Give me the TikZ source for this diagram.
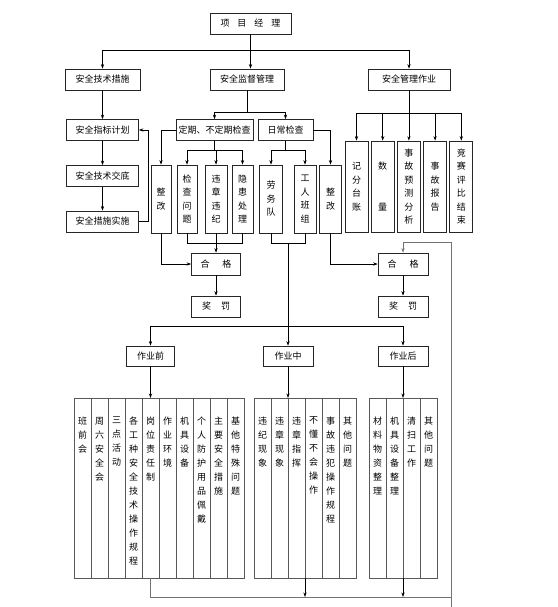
\documentclass[tikz,border=0pt]{standalone}
\usepackage{fontspec}
\newfontfamily\cjk{Noto Sans CJK SC}
\usepackage{tikz}
\usetikzlibrary{positioning,arrows.meta,calc}
\newcommand{\chgap}[1]{\hspace{#1}}
\newcommand{\colt}[1]{\parbox[c][180pt][t]{14pt}{\vspace*{19pt}\centering #1}}

\begin{document}
\begin{tikzpicture}[x=1pt, y=-1pt, >={Stealth[length=4.5pt,width=3.2pt]},
    box/.style={rectangle, draw=black!85, line width=0.7pt, inner sep=0pt, minimum height=21pt, font=\cjk\fontsize{9}{11}\selectfont},
    upcol/.style={rectangle, draw=black!85, line width=0.7pt, inner sep=0pt, minimum width=21pt, minimum height=68pt, align=center, font=\cjk\fontsize{9}{13.5}\selectfont},
    lowcol/.style={rectangle, draw=black!65, line width=0.6pt, inner sep=0pt, outer sep=0pt, minimum width=17pt, minimum height=180pt, font=\cjk\fontsize{9}{14}\selectfont},
    wire/.style={line width=0.6pt},
    link/.style={wire, ->}]
    \useasboundingbox (0,0) rectangle (557,607);

    % top levels
    \node[box, minimum width=81pt] (pm) at (250.5,23.5) {项\chgap{8pt}目\chgap{8pt}经\chgap{8pt}理};
    \node[box, minimum width=75pt] (tech) at (102.5,79.5) {安全技术措施};
    \node[box, minimum width=74pt] (sup) at (247,79.5) {安全监督管理};
    \node[box, minimum width=82pt] (mgmt) at (409,79.5) {安全管理作业};

    % technical measures
    \node[box, minimum width=72pt] (plan) at (102.5,130) {安全指标计划};
    \node[box, minimum width=72pt] (brief) at (102.5,176) {安全技术交底};
    \node[box, minimum width=72pt] (impl) at (102.5,221.5) {安全措施实施};

    % supervision
    \node[box, minimum width=77pt] (reg) at (214.5,130) {定期、不定期检查};
    \node[box, minimum width=55pt] (daily) at (285.5,130) {日常检查};
    \node[upcol, minimum width=20pt] (fix1) at (161,199) {整\\改};
    \node[upcol, minimum width=20pt] (q1) at (187,199) {检\\查\\问\\题};
    \node[upcol, minimum width=22pt] (q2) at (216,199) {违\\章\\违\\纪};
    \node[upcol] (q3) at (242.5,199) {隐\\患\\处\\理};
    \node[upcol, minimum width=23pt] (lab) at (271,199) {劳\\务\\队};
    \node[upcol, minimum width=22pt] (crew) at (305,199) {工\\人\\班\\组};
    \node[upcol, minimum width=22pt] (fix2) at (330.5,199) {整\\改};

    % management work
    \node[upcol, minimum width=23pt, minimum height=91pt] (r1) at (356.5,186.5) {记\\分\\台\\账};
    \node[upcol, minimum width=23pt, minimum height=91pt, right=2.5pt of r1] (r2) {数\\\phantom{数}\\\phantom{数}\\量};
    \node[upcol, minimum width=23pt, minimum height=91pt, right=2.5pt of r2] (r3) {事\\故\\预\\测\\分\\析};
    \node[upcol, minimum width=23pt, minimum height=91pt, right=2.5pt of r3] (r4) {事\\故\\报\\告};
    \node[upcol, minimum width=23pt, minimum height=91pt, right=2.5pt of r4] (r5) {竞\\赛\\评\\比\\结\\束};

    % results
    \node[box, minimum width=49pt, minimum height=22pt] (ok1) at (216,264) {合\chgap{13pt}格};
    \node[box, minimum width=49pt] (rp1) at (216,306.5) {奖\chgap{10pt}罚};
    \node[box, minimum width=50pt, minimum height=22pt] (ok2) at (403,264) {合\chgap{13pt}格};
    \node[box, minimum width=50pt] (rp2) at (403,306.5) {奖\chgap{10pt}罚};

    % work stages
    \node[box, minimum width=48pt, minimum height=20pt] (pre) at (150.5,356) {作业前};
    \node[box, minimum width=50pt, minimum height=20pt] (mid) at (288,356) {作业中};
    \node[box, minimum width=50pt, minimum height=20pt] (post) at (403,356) {作业后};

    % before work
    \node[lowcol] (a1) at (82.5,488) {\colt{班\\前\\会}};
    \node[lowcol, right=0pt of a1] (a2) {\colt{周\\六\\安\\全\\会}};
    \node[lowcol, right=0pt of a2] (a3) {\colt{三\\点\\活\\动}};
    \node[lowcol, right=0pt of a3] (a4) {\colt{各\\工\\种\\安\\全\\技\\术\\操\\作\\规\\程}};
    \node[lowcol, right=0pt of a4] (a5) {\colt{岗\\位\\责\\任\\制}};
    \node[lowcol, right=0pt of a5] (a6) {\colt{作\\业\\环\\境}};
    \node[lowcol, right=0pt of a6] (a7) {\colt{机\\具\\设\\备}};
    \node[lowcol, right=0pt of a7] (a8) {\colt{个\\人\\防\\护\\用\\品\\佩\\戴}};
    \node[lowcol, right=0pt of a8] (a9) {\colt{主\\要\\安\\全\\措\\施}};
    \node[lowcol, right=0pt of a9] (a10) {\colt{基\\他\\特\\殊\\问\\题}};

    % during work
    \node[lowcol] (b1) at (262.5,488) {\colt{违\\纪\\现\\象}};
    \node[lowcol, right=0pt of b1] (b2) {\colt{违\\章\\现\\象}};
    \node[lowcol, right=0pt of b2] (b3) {\colt{违\\章\\指\\挥}};
    \node[lowcol, right=0pt of b3] (b4) {\colt{不\\懂\\不\\会\\操\\作}};
    \node[lowcol, right=0pt of b4] (b5) {\colt{事\\故\\违\\犯\\操\\作\\规\\程}};
    \node[lowcol, right=0pt of b5] (b6) {\colt{其\\他\\问\\题}};

    % after work
    \node[lowcol] (c1) at (377.5,488) {\colt{材\\料\\物\\资\\整\\理}};
    \node[lowcol, right=0pt of c1] (c2) {\colt{机\\具\\设\\备\\整\\理}};
    \node[lowcol, right=0pt of c2] (c3) {\colt{清\\扫\\工\\作}};
    \node[lowcol, right=0pt of c3] (c4) {\colt{其\\他\\问\\题}};

    % connectors
    \coordinate (bus1) at ($(pm.south)+(0,16)$);
    \draw[link] (pm.south) -- (pm.south |- sup.north);
    \draw[link] (bus1) -| (tech.north);
    \draw[link] (bus1) -| (mgmt.north);

    \draw[link] (tech) -- (plan);
    \draw[link] (plan) -- (brief);
    \draw[link] (brief) -- (impl);
    \draw[link] (impl.east) -- ++(9,0) |- (plan.east);

    \coordinate (bus2) at ($(sup.south)+(0,22)$);
    \draw[wire] (sup.south) -- (bus2);
    \draw[link] (bus2) -| (reg.north);
    \draw[link] (bus2) -| (daily.north);
    \draw[link] (reg.west) -| (fix1.north);
    \coordinate (bus3) at ($(reg.south)+(0,9)$);
    \draw[wire] (reg.south) -- (bus3);
    \draw[link] (bus3) -| (q1.north);
    \draw[link] (bus3) -| (q2.north);
    \draw[link] (bus3) -| (q3.north);
    \coordinate (bus4) at ($(daily.south)+(0,9)$);
    \draw[wire] (daily.south) -- (bus4);
    \draw[link] (bus4) -| (lab.north);
    \draw[link] (bus4) -| (crew.north);
    \draw[link] (daily.east) -| (fix2.north);

    \coordinate (bus5) at ($(mgmt.south)+(0,23)$);
    \draw[wire] (mgmt.south) -- (bus5);
    \foreach \r in {r1,r2,r3,r4,r5}
        \draw[link] (bus5) -| (\r.north);

    \draw[link] (fix1.south) |- (ok1.west);
    \draw[wire] (q1.south) -- ++(0,10) -| (q3.south);
    \draw[link] (q2) -- (ok1);
    \draw[link] (ok1) -- (rp1);
    \draw[link] (fix2.south) |- (ok2.west);
    \draw[link] (ok2) -- (rp2);

    \coordinate (lc) at ($(lab.south)!0.5!(crew.south)+(0,10)$);
    \draw[wire] (lab.south) |- (lc) -| (crew.south);
    \draw[link] (lc) -- (lc |- mid.north);
    \coordinate (bus6) at ($(lc |- mid.north)+(0,-19)$);
    \draw[link] (bus6) -| (pre.north);
    \draw[link] (bus6) -| (post.north);

    \draw[link] (pre) -- (a5);
    \draw[link] (mid.south) -- (b2.north east);
    \draw[link] (post.south) -- (c2.north east);

    % feedback
    \coordinate (fbl) at (451,597);
    \coordinate (fbt) at (451,242);
    \coordinate (fbe) at (451,607);
    \draw[link, black!55] (a5.south) |- (fbl) -- (fbt) -| (ok2.north);
    \draw[wire, black!55] (fbl) -- (fbe);
    \draw[link] (b3.south east) -- (b3.south east |- fbl);
    \draw[link] (c2.south east) -- (c2.south east |- fbl);
\end{tikzpicture}
\end{document}
